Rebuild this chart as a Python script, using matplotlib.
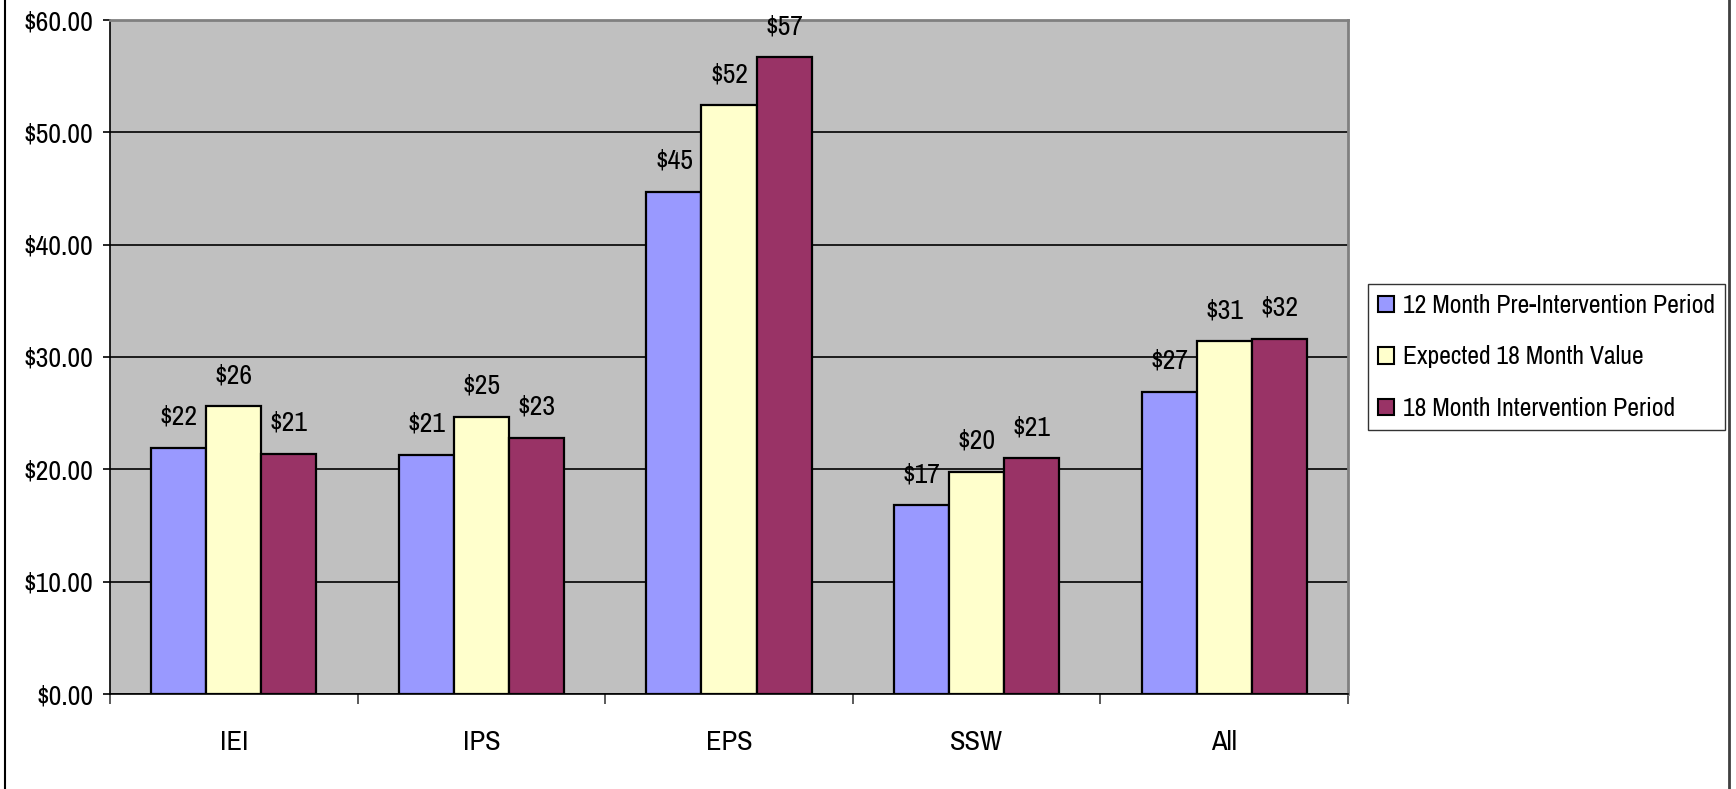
import matplotlib
matplotlib.use("Agg")
import matplotlib.pyplot as plt
from matplotlib import font_manager
from matplotlib.patches import Patch
from matplotlib.lines import Line2D
from matplotlib.ticker import FuncFormatter, FixedLocator
import numpy as np


def pick_narrow_font():
    """Return (family, stretch) of an installed narrow sans face, if any."""
    entries = font_manager.fontManager.ttflist
    for e in entries:
        if "narrow" in e.name.lower() and "liberation" in e.name.lower():
            return e.name, e.stretch
    for e in entries:
        n = e.name.lower()
        if ("narrow" in n or "condensed" in n) and "mono" not in n and "serif" not in n.replace("sans", ""):
            return e.name, e.stretch
    for e in entries:
        if str(e.stretch) in ("condensed", "semi-condensed", "extra-condensed", "600", "500", "700") \
                and "mono" not in e.name.lower():
            return e.name, e.stretch
    return None, None


narrow_family, narrow_stretch = pick_narrow_font()
if narrow_family:
    plt.rcParams['font.family'] = [narrow_family, 'Liberation Sans', 'DejaVu Sans']
    plt.rcParams['font.stretch'] = narrow_stretch
    scale = 1.0
else:
    plt.rcParams['font.family'] = ['Liberation Sans', 'DejaVu Sans']
    scale = 0.85

categories = ["IEI", "IPS", "EPS", "SSW", "All"]
series_names = ["12 Month Pre-Intervention Period",
                "Expected 18 Month Value",
                "18 Month Intervention Period"]
pre_12 = [21.9, 21.3, 44.7, 16.8, 26.9]
expected_18 = [25.6, 24.7, 52.4, 19.8, 31.4]
intervention_18 = [21.4, 22.8, 56.7, 21.0, 31.6]
colors = ["#9999FF", "#FFFFCC", "#993366"]

W, H = 1736, 789
fig = plt.figure(figsize=(W / 100, H / 100), dpi=100)
ax = fig.add_axes([110 / W, 1 - 694 / H, (1348 - 110) / W, (694 - 20) / H])
ax.set_facecolor("#C0C0C0")

x = np.arange(len(categories))
bw = 1 / 4.5
for i, (vals, name, c) in enumerate(zip([pre_12, expected_18, intervention_18], series_names, colors)):
    bars = ax.bar(x + (i - 1) * bw, vals, bw, color=c, edgecolor="black", linewidth=1.6, zorder=3, label=name)
    ax.bar_label(bars, labels=[f"${v:.0f}" for v in vals], padding=13, fontsize=20 * scale, color="black")

ax.set_xlim(-0.5, len(categories) - 0.5)
ax.set_ylim(0, 60)
ax.set_yticks(np.arange(0, 61, 10))
ax.yaxis.set_major_formatter(FuncFormatter(lambda v, p: f"${v:.2f}"))
ax.grid(axis="y", color="black", linewidth=1.2, zorder=1)
ax.set_axisbelow(True)

ax.set_xticks(x)
ax.set_xticklabels(categories, fontsize=20.5 * scale)
ax.xaxis.set_minor_locator(FixedLocator(np.arange(-0.5, len(categories), 1.0)))
ax.tick_params(axis="x", which="major", length=0, pad=26)
ax.tick_params(axis="x", which="minor", length=7, width=1.2, color="#404040")
ax.tick_params(axis="y", length=5, width=1.2, pad=7, labelsize=20 * scale)

for side in ["top", "right"]:
    ax.spines[side].set_color("#808080")
    ax.spines[side].set_linewidth(2)
for side in ["left", "bottom"]:
    ax.spines[side].set_color("black")
    ax.spines[side].set_linewidth(1.2)

handles = [Patch(facecolor=c, edgecolor="black", linewidth=1.5) for c in colors]
leg = fig.legend(handles, series_names, loc="center left",
                 bbox_to_anchor=(1368 / W, 1 - 357 / H), fontsize=18.5 * scale,
                 frameon=True, fancybox=False, handlelength=0.6, handleheight=0.6,
                 handletextpad=0.35, labelspacing=1.1, borderpad=0.4, borderaxespad=0)
leg.get_frame().set_edgecolor("black")
leg.get_frame().set_linewidth(1.0)

# outer chart frame edges
fig.add_artist(Line2D([5 / W, 5 / W], [0, 1], color="black", linewidth=1.5, transform=fig.transFigure))
fig.add_artist(Line2D([1729 / W, 1729 / W], [0, 1], color="#404040", linewidth=2, transform=fig.transFigure))

fig.savefig("out.png", dpi=100, facecolor="white")
